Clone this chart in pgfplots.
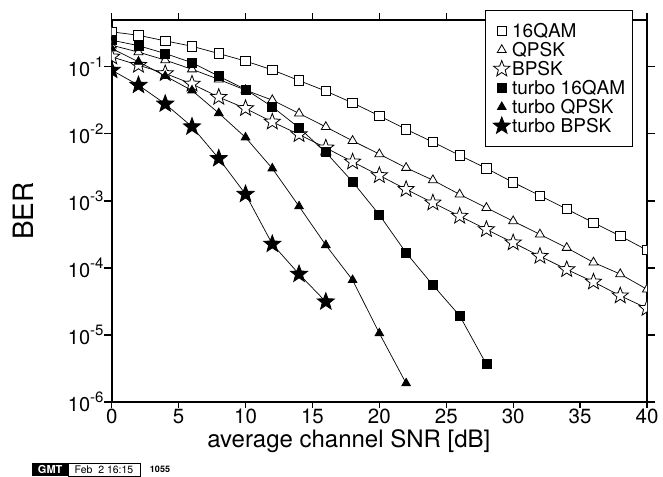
\documentclass[border=0pt]{standalone}
\usepackage{fontspec}
\setmainfont{TeX Gyre Heros}
\usepackage{pgfplots}
\pgfplotsset{compat=1.18}

\pgfdeclareplotmark{fstar}{%
  \pgfpathmoveto{\pgfpointpolar{90}{\pgfplotmarksize}}%
  \pgfpathlineto{\pgfpointpolar{126}{0.42\pgfplotmarksize}}%
  \pgfpathlineto{\pgfpointpolar{162}{\pgfplotmarksize}}%
  \pgfpathlineto{\pgfpointpolar{198}{0.42\pgfplotmarksize}}%
  \pgfpathlineto{\pgfpointpolar{234}{\pgfplotmarksize}}%
  \pgfpathlineto{\pgfpointpolar{270}{0.42\pgfplotmarksize}}%
  \pgfpathlineto{\pgfpointpolar{306}{\pgfplotmarksize}}%
  \pgfpathlineto{\pgfpointpolar{342}{0.42\pgfplotmarksize}}%
  \pgfpathlineto{\pgfpointpolar{18}{\pgfplotmarksize}}%
  \pgfpathlineto{\pgfpointpolar{54}{0.42\pgfplotmarksize}}%
  \pgfpathclose
  \pgfusepathqfillstroke
}

\newcommand{\ep}[1]{10\raisebox{8.5pt}{\fontsize{15}{15}\selectfont #1}}

\begin{document}
\begin{tikzpicture}
\path[use as bounding box] (-111.7pt,-74pt) rectangle (551.3pt,402pt);
\begin{axis}[
  scale only axis, width=535.3pt, height=382pt,
  xmin=0, xmax=40, ymode=log, ymin=1e-6, ymax=0.5,
  xtick={0,5,...,40}, xticklabels={0,5,10,15,20,25,30,35,40},
  ytick={1e-6,1e-5,1e-4,1e-3,1e-2,1e-1},
  yticklabels={\ep{-6},\ep{-5},\ep{-4},\ep{-3},\ep{-2},\ep{-1}},
  yminorticks=false, xminorticks=false,
  major tick length=0pt,
  xticklabel shift=7pt, yticklabel shift=8pt,
  axis line style={line width=2pt},
  xticklabel style={font=\fontsize{20.5}{20.5}\selectfont, inner sep=0pt},
  yticklabel style={font=\fontsize{20}{20}\selectfont, inner sep=0pt},
  xlabel={average channel SNR [dB]},
  xlabel style={font=\fontsize{24}{24}\selectfont, inner sep=0pt, at={(axis description cs:0.443,-0.1178)}, anchor=base},
  ylabel={BER},
  ylabel style={font=\fontsize{28}{28}\selectfont, inner sep=0pt, at={(axis description cs:-0.147,0.5)}, anchor=base},
  clip marker paths=true,
  legend style={at={(axis description cs:0.6974,1.026)}, anchor=north west, draw=black, line width=0.8pt, fill=white, inner xsep=7pt, inner ysep=11pt, font=\fontsize{19}{19}\selectfont, nodes={inner sep=0pt, text height=16pt, text depth=3pt}, column sep=0pt, row sep=0pt},
  legend cell align=left,
  legend image code/.code={\path (-9pt,0pt) (10pt,0pt); \draw[#1] plot[only marks] coordinates {(0pt,0pt)};},
]
\addplot[black, line width=0.7pt, mark=square*, mark size=4.7pt, mark options={fill=white, line width=0.8pt, solid}] coordinates {
(0,0.333) (2,0.296) (4,0.244) (6,0.203) (8,0.158) (10,0.122) (12,0.090) (14,0.0625)
(16,0.0435) (18,0.029) (20,0.0186) (22,0.0117) (24,0.00755) (26,0.00478) (28,0.00306)
(30,0.00189) (32,0.0012) (34,7.57e-4) (36,4.73e-4) (38,3.0e-4) (40,1.84e-4)};
\addlegendentry{16QAM}
\addplot[black, line width=0.7pt, mark=triangle*, mark size=5.2pt, mark options={fill=white, line width=0.8pt, solid}] coordinates {
(0,0.21) (2,0.166) (4,0.126) (6,0.092) (8,0.065) (10,0.045) (12,0.0319) (14,0.0202)
(16,0.0127) (18,0.00788) (20,0.00499) (22,0.00312) (24,0.00204) (26,0.00125) (28,7.89e-4)
(30,4.99e-4) (32,3.17e-4) (34,2.0e-4) (36,1.21e-4) (38,8.1e-5) (40,4.8e-5)};
\addlegendentry{QPSK}
\addplot[black, line width=0.7pt, mark=fstar, mark size=8.5pt, mark options={fill=white, line width=0.8pt, solid}] coordinates {
(0,0.141) (2,0.106) (4,0.0797) (6,0.0556) (8,0.0353) (10,0.024) (12,0.0151) (14,0.00981)
(16,0.0062) (18,0.00383) (20,0.0024) (22,0.00149) (24,9.38e-4) (26,5.94e-4) (28,3.76e-4)
(30,2.38e-4) (32,1.50e-4) (34,9.5e-5) (36,6.2e-5) (38,3.85e-5) (40,2.5e-5)};
\addlegendentry{BPSK}
\addplot[black, line width=0.7pt, mark=square*, mark size=4.5pt, mark options={fill=black, line width=0.8pt, solid}] coordinates {
(0,0.25) (2,0.207) (4,0.158) (6,0.1155) (8,0.0726) (10,0.046) (12,0.0254) (14,0.0123)
(16,0.0053) (18,0.00193) (20,6.2e-4) (22,1.68e-4) (24,5.55e-5) (26,1.94e-5) (28,3.65e-6)};
\addlegendentry{turbo 16QAM}
\addplot[black, line width=0.7pt, mark=triangle*, mark size=5pt, mark options={fill=black, line width=0.8pt, solid}] coordinates {
(0,0.188) (2,0.119) (4,0.073) (6,0.0444) (8,0.0204) (10,0.00885) (12,0.00305) (14,8.3e-4)
(16,2.19e-4) (18,6.6e-5) (20,1.06e-5) (22,1.9e-6)};
\addlegendentry{turbo QPSK}
\addplot[black, line width=0.7pt, mark=fstar, mark size=9pt, mark options={fill=black, line width=0.8pt, solid}] coordinates {
(0,0.0893) (2,0.0533) (4,0.028) (6,0.0128) (8,0.0043) (10,0.00126) (12,2.27e-4) (14,8.1e-5)
(16,3.13e-5)};
\addlegendentry{turbo BPSK}
\end{axis}
% outward tick marks on the axis frame (top ones at 30 and 35 lie under the legend)
\foreach \i in {0,...,8} {
  \draw[line width=1.2pt] (\i*66.9125pt,0pt) -- ++(0pt,-6pt);
}
\foreach \i in {0,...,5,8} {
  \draw[line width=1.2pt] (\i*66.9125pt,382pt) -- ++(0pt,7pt);
}
\foreach \k in {0,...,5} {
  \draw[line width=1.2pt] (0pt,\k*67.029pt) -- ++(-8pt,0pt);
  \draw[line width=1.2pt] (535.3pt,\k*67.029pt) -- ++(8pt,0pt);
}
\node[fill=black, text=white, font=\bfseries\fontsize{11}{11}\selectfont, inner sep=0pt, minimum height=13pt, minimum width=36pt, anchor=south west] at (-79.7pt,-74pt) {GMT};
\draw[line width=0.6pt] (-43.7pt,-74pt) rectangle (28.3pt,-61pt);
\node[font=\fontsize{10.5}{10.5}\selectfont, inner sep=0pt] at (-7.7pt,-67.5pt) {Feb\ \ 2 16:15};
\node[font=\bfseries\fontsize{9}{9}\selectfont, inner sep=0pt] at (48.3pt,-67.5pt) {1055};
\end{tikzpicture}
\end{document}
